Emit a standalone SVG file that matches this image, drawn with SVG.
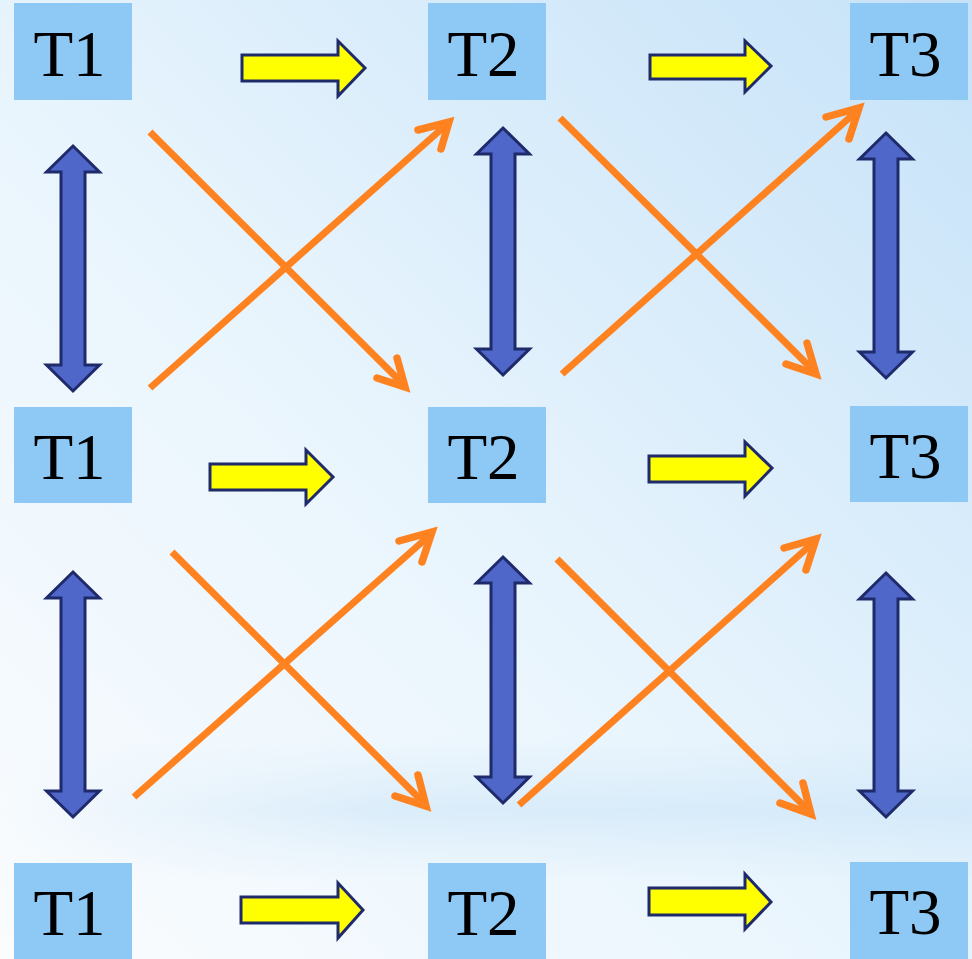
<svg xmlns="http://www.w3.org/2000/svg" width="972" height="959" viewBox="0 0 972 959">
<defs>
<linearGradient id="bg" x1="0" y1="1" x2="1" y2="0">
<stop offset="0" stop-color="#FAFCFE"/>
<stop offset="0.45" stop-color="#E9F5FD"/>
<stop offset="1" stop-color="#C6E2F8"/>
</linearGradient>
<linearGradient id="band" x1="0" y1="0" x2="0" y2="1">
<stop offset="0" stop-color="#CDE6F8" stop-opacity="0"/>
<stop offset="0.5" stop-color="#C9E3F7" stop-opacity="0.55"/>
<stop offset="1" stop-color="#CDE6F8" stop-opacity="0"/>
</linearGradient>
<linearGradient id="bandx" x1="0" y1="0" x2="1" y2="0">
<stop offset="0" stop-color="#fff" stop-opacity="0"/>
<stop offset="0.4" stop-color="#fff" stop-opacity="1"/>
<stop offset="1" stop-color="#fff" stop-opacity="1"/>
</linearGradient>
<mask id="bm"><rect width="972" height="959" fill="url(#bandx)"/></mask>
<style>
.box{fill:#8EC8F4}
.lbl{font-family:"Liberation Serif","Times New Roman",serif;font-size:65px;fill:#000;text-anchor:middle}
.ya{fill:#FFFF00;stroke:#1F2A6B;stroke-width:3;stroke-linejoin:miter}
.ba{fill:#4F67C8;stroke:#1F2A6B;stroke-width:3;stroke-linejoin:miter}
.oa{fill:none;stroke:#FF8220;stroke-width:7}
.oh{fill:none;stroke:#FF8220;stroke-width:7.5;stroke-linecap:round;stroke-linejoin:miter}
</style>
</defs>
<rect width="972" height="959" fill="url(#bg)"/>
<rect x="0" y="740" width="972" height="140" fill="url(#band)" mask="url(#bm)"/>

<g id="nodes">
<g id="t1a"><rect class="box" x="14" y="3" width="118" height="97"/><text class="lbl" x="69.5" y="76">T1</text></g>
<g id="t2a"><rect class="box" x="428" y="3" width="118" height="97"/><text class="lbl" x="483.5" y="76">T2</text></g>
<g id="t3a"><rect class="box" x="850" y="3" width="118" height="97"/><text class="lbl" x="905.5" y="76">T3</text></g>
<g id="t1b"><rect class="box" x="14" y="407" width="118" height="96"/><text class="lbl" x="69.5" y="479">T1</text></g>
<g id="t2b"><rect class="box" x="428" y="407" width="118" height="96"/><text class="lbl" x="483.5" y="479">T2</text></g>
<g id="t3b"><rect class="box" x="850" y="406" width="118" height="96"/><text class="lbl" x="905.5" y="478">T3</text></g>
<g id="t1c"><rect class="box" x="14" y="863" width="118" height="96"/><text class="lbl" x="69.5" y="935">T1</text></g>
<g id="t2c"><rect class="box" x="428" y="863" width="118" height="96"/><text class="lbl" x="483.5" y="935">T2</text></g>
<g id="t3c"><rect class="box" x="850" y="862" width="118" height="97"/><text class="lbl" x="905.5" y="934">T3</text></g>
</g>

<g id="connectors">
<path class="ya" d="M242 55 H338 V41 L365 68 L338 96 V81 H242 Z"/>
<path class="ya" d="M650 55 H745 V41 L771 66 L745 92 V79 H650 Z"/>
<path class="ya" d="M210 464 H306 V450 L333 477 L306 504 V490 H210 Z"/>
<path class="ya" d="M649 456 H745 V442 L772 468 L745 496 V482 H649 Z"/>
<path class="ya" d="M241 897 H338 V883 L363 910 L338 938 V923 H241 Z"/>
<path class="ya" d="M649 888 H745 V874 L771 902 L745 929 V915 H649 Z"/>

<path class="ba" d="M73 146 L99.5 172 H85 V365 H99.5 L73 391 L46.5 365 H61 V172 H46.5 Z"/>
<path class="ba" d="M503 128 L529.5 154 H515 V349 H529.5 L503 375 L476.5 349 H491 V154 H476.5 Z"/>
<path class="ba" d="M886 133 L912.5 159 H898 V352 H912.5 L886 378 L859.5 352 H874 V159 H859.5 Z"/>
<path class="ba" d="M73 572 L99.5 598 H85 V791 H99.5 L73 817 L46.5 791 H61 V598 H46.5 Z"/>
<path class="ba" d="M503 557 L529.5 583 H515 V777 H529.5 L503 803 L476.5 777 H491 V583 H476.5 Z"/>
<path class="ba" d="M886 573 L912.5 599 H898 V791 H912.5 L886 817 L859.5 791 H874 V599 H859.5 Z"/>

<line class="oa" x1="150" y1="132" x2="403" y2="384"/>
<path class="oh" d="M377 378 L405 387 L397 358"/>
<line class="oa" x1="150" y1="388" x2="446" y2="125"/>
<path class="oh" d="M418 130 L449 122 L441 149"/>

<line class="oa" x1="560" y1="118" x2="814" y2="371"/>
<path class="oh" d="M786 364 L816 374 L807 343"/>
<line class="oa" x1="562" y1="374" x2="857" y2="111"/>
<path class="oh" d="M826 117 L859 108 L849 139"/>

<line class="oa" x1="172" y1="552" x2="424" y2="803"/>
<path class="oh" d="M395 796 L426 806 L418 775"/>
<line class="oa" x1="134" y1="797" x2="430" y2="535"/>
<path class="oh" d="M399 541 L432 532 L422 562"/>

<line class="oa" x1="557" y1="559" x2="809" y2="811"/>
<path class="oh" d="M780 803 L811 814 L803 783"/>
<line class="oa" x1="519" y1="805" x2="814" y2="542"/>
<path class="oh" d="M784 548 L816 539 L806 570"/>
</g>
</svg>
